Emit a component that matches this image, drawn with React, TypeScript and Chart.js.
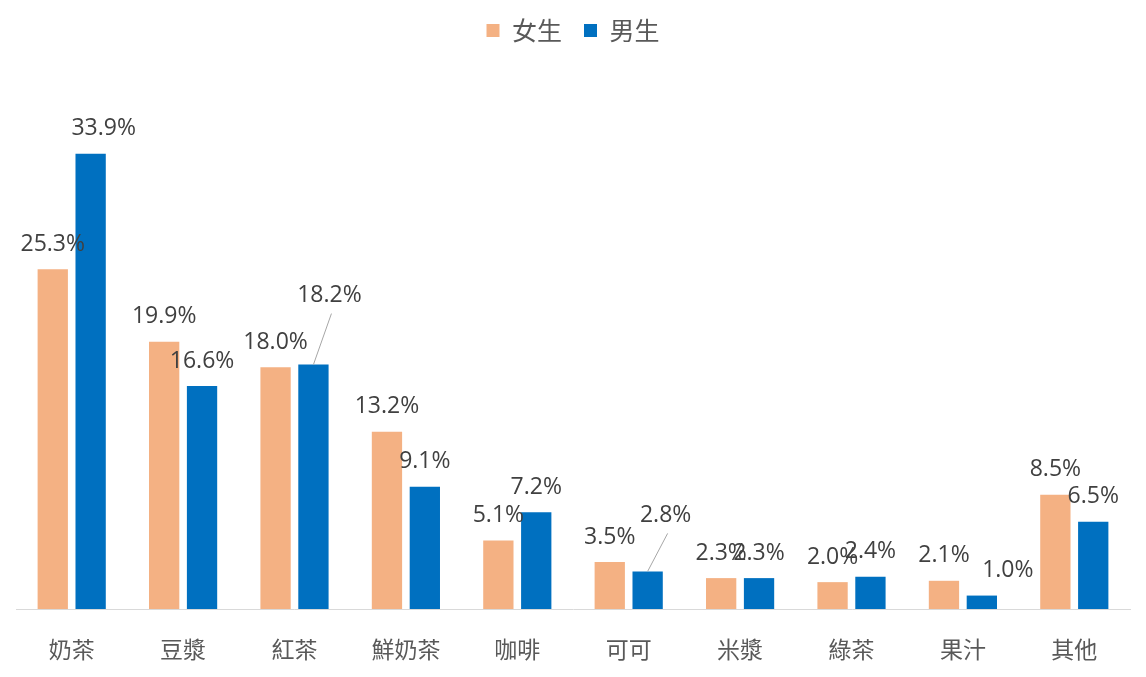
import React, { useEffect, useRef } from "react";
import { Chart, registerables } from "chart.js";

Chart.register(...registerables);

const categories = ["奶茶", "豆漿", "紅茶", "鮮奶茶", "咖啡", "可可", "米漿", "綠茶", "果汁", "其他"];
const seriesNames = ["女生", "男生"];
const femaleValues = [25.3, 19.9, 18.0, 13.2, 5.1, 3.5, 2.3, 2.0, 2.1, 8.5];
const maleValues = [33.9, 16.6, 18.2, 9.1, 7.2, 2.8, 2.3, 2.4, 1.0, 6.5];

const FEMALE_COLOR = "#F4B183";
const MALE_COLOR = "#0070C0";
const FONT = "'Open Sans', 'Noto Sans CJK TC', sans-serif";
const CJK_FONT = "'Noto Sans CJK TC', sans-serif";

// per-label manual offsets [dx, dy, leader]
const labelOffsets: Record<string, [number, number, boolean]> = {
  "1-0": [13, 0, false],
  "1-2": [16, -44, true],
  "1-5": [18, -31, true],
  "1-8": [26, 0, false],
};

const labelPlugin = {
  id: "barLabels",
  afterDatasetsDraw(chart: any) {
    const ctx = chart.ctx;
    ctx.save();
    ctx.font = `23px ${FONT}`;
    ctx.fillStyle = "#404040";
    ctx.textAlign = "center";
    ctx.textBaseline = "middle";
    chart.data.datasets.forEach((ds: any, di: number) => {
      const meta = chart.getDatasetMeta(di);
      meta.data.forEach((bar: any, i: number) => {
        const v = ds.data[i];
        const off = labelOffsets[`${di}-${i}`] || [0, 0, false];
        const lx = bar.x + off[0];
        const ly = bar.y - 25 + off[1];
        if (off[2]) {
          ctx.save();
          ctx.strokeStyle = "#A6A6A6";
          ctx.lineWidth = 1;
          ctx.beginPath();
          ctx.moveTo(bar.x, bar.y);
          ctx.lineTo(lx + 2, ly + 18);
          ctx.stroke();
          ctx.restore();
        }
        ctx.fillText(v.toFixed(1) + "%", lx, ly);
      });
    });
    ctx.restore();
  },
};

export default function App() {
  const ref = useRef<HTMLCanvasElement | null>(null);
  useEffect(() => {
    document.body.style.margin = "0";
    const chart = new Chart(ref.current!, {
      type: "bar",
      data: {
        labels: categories,
        datasets: [
          { label: seriesNames[0], data: femaleValues, backgroundColor: FEMALE_COLOR, barPercentage: 0.8, categoryPercentage: 0.68 },
          { label: seriesNames[1], data: maleValues, backgroundColor: MALE_COLOR, barPercentage: 0.8, categoryPercentage: 0.68 },
        ],
      },
      options: {
        animation: false,
        responsive: false,
        layout: { padding: { left: 16, right: 16, top: -4, bottom: 0 } },
        plugins: {
          legend: {
            position: "top",
            labels: {
              font: { size: 25, family: CJK_FONT },
              color: "#595959",
              boxWidth: 13,
              boxHeight: 13,
              padding: 22,
            },
          },
          tooltip: { enabled: false },
        },
        scales: {
          x: {
            grid: { display: false, drawTicks: false },
            border: { display: true, color: "#D9D9D9", width: 1 },
            ticks: { font: { size: 23, family: CJK_FONT }, color: "#595959", padding: 26 },
            afterFit: (scale: any) => {
              scale.height = 68;
            },
          },
          y: { display: false, min: 0, max: 41.4 },
        },
      },
      plugins: [labelPlugin],
    });
    return () => chart.destroy();
  }, []);
  return <canvas ref={ref} width={1146} height={677} style={{ display: "block" }} />;
}
